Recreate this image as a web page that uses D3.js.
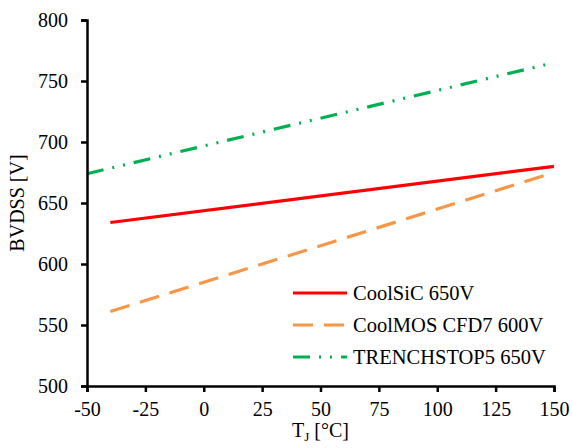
<!DOCTYPE html>
<html lang="en">
<head>
    <meta charset="UTF-8">
    <title>BVDSS vs TJ</title>
    <style>
        body { margin: 0; background: #fff; }
        svg text { font-family: "Liberation Serif", "Times New Roman", serif; fill: #000; }
        .axis path, .axis line { stroke: #000; stroke-width: 2.5; }
        .series { fill: none; stroke-width: 3.2; }
    </style>
    <script src="https://cdn.jsdelivr.net/npm/d3@7"></script>
</head>
<body>
    <div id="chart"></div>
    <script>
        // temperatures [°C] and breakdown voltages [V]
        var tempSiC = [-40, 150],
            bvSiC = [634, 680];
        var tempMOS = [-40, 150],
            bvMOS = [561, 675];
        var tempTS5 = [-50, 150],
            bvTS5 = [674, 765];

        var seriesNames = ["CoolSiC 650V", "CoolMOS CFD7 600V", "TRENCHSTOP5 650V"],
            seriesColors = ["#ff0000", "#f79646", "#00b050"],
            seriesDash = [null, "20,11", "17,9,2,9,2,9"];

        var xTicks = [-50, -25, 0, 25, 50, 75, 100, 125, 150],
            yTicks = [500, 550, 600, 650, 700, 750, 800];

        var W = 572, H = 448;
        var margin = { top: 20, right: 18, bottom: 62, left: 87 },
            width = W - margin.left - margin.right,
            height = H - margin.top - margin.bottom;

        var svg = d3.select("#chart").append("svg")
            .attr("width", W)
            .attr("height", H);
        var g = svg.append("g")
            .attr("transform", "translate(" + margin.left + "," + margin.top + ")");

        var x = d3.scaleLinear().domain([-50, 150]).range([0, width]);
        var y = d3.scaleLinear().domain([500, 800]).range([height, 0]);

        var series = [
            { t: tempSiC, v: bvSiC },
            { t: tempMOS, v: bvMOS },
            { t: tempTS5, v: bvTS5 }
        ];

        var line = d3.line()
            .x(function (d) { return x(d[0]); })
            .y(function (d) { return y(d[1]); });

        g.selectAll(".series")
            .data(series)
            .enter().append("path")
            .attr("class", "series")
            .attr("d", function (s) { return line(d3.zip(s.t, s.v)); })
            .style("stroke", function (s, i) { return seriesColors[i]; })
            .style("stroke-dasharray", function (s, i) { return seriesDash[i]; });

        // axes (plain hyphen for negatives, like the original)
        var fmt = function (d) { return String(d); };
        g.append("g").attr("class", "axis")
            .attr("transform", "translate(0," + height + ")")
            .call(d3.axisBottom(x).tickValues(xTicks).tickFormat(fmt).tickSize(6).tickSizeOuter(6).tickPadding(10))
            .attr("font-family", "Liberation Serif").attr("font-size", 20);
        g.append("g").attr("class", "axis")
            .call(d3.axisLeft(y).tickValues(yTicks).tickFormat(fmt).tickSize(6).tickSizeOuter(6).tickPadding(13))
            .attr("font-family", "Liberation Serif").attr("font-size", 20);

        // axis titles
        var xt = svg.append("text")
            .attr("x", margin.left + width / 2)
            .attr("y", 437)
            .attr("text-anchor", "middle")
            .style("font-size", "20px");
        xt.append("tspan").text("T");
        xt.append("tspan").attr("dy", 4).style("font-size", "13px").text("J");
        xt.append("tspan").attr("dy", -4).text(" [°C]");

        svg.append("text")
            .attr("transform", "translate(24," + (margin.top + height / 2) + ") rotate(-90)")
            .attr("text-anchor", "middle")
            .style("font-size", "20px")
            .text("BVDSS [V]");

        // legend
        var legend = svg.append("g").attr("transform", "translate(293,293)");
        var item = legend.selectAll(".item")
            .data(seriesNames)
            .enter().append("g")
            .attr("class", "item")
            .attr("transform", function (d, i) { return "translate(0," + (i * 32) + ")"; });
        item.append("line")
            .attr("x1", 0).attr("x2", 54)
            .attr("y1", 0).attr("y2", 0)
            .style("stroke", function (d, i) { return seriesColors[i]; })
            .style("stroke-width", 3)
            .style("stroke-dasharray", function (d, i) { return seriesDash[i]; });
        item.append("text")
            .attr("x", 60)
            .attr("y", 7)
            .style("font-size", "20.5px")
            .text(function (d) { return d; });
    </script>
</body>
</html>
